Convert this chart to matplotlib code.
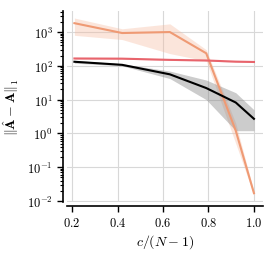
import numpy as np
import matplotlib
matplotlib.use('Agg')
import matplotlib.pyplot as plt

plt.rcParams['font.family'] = 'serif'
plt.rcParams['font.serif'] = ['cmr10', 'DejaVu Serif']
plt.rcParams['mathtext.fontset'] = 'cm'
plt.rcParams['axes.formatter.use_mathtext'] = True
plt.rcParams['axes.unicode_minus'] = False

x = [0.21, 0.42, 0.63, 0.79, 0.92, 1.0]

negro = [132, 107, 56, 22, 8.2, 2.7]
negro_lo = [120, 100, 42, 10, 1.2, 1.2]
negro_hi = [145, 115, 70, 38, 16, 5.0]

rojo = [165, 163, 150, 144, 133, 130]
rojo_lo = [159, 158, 145, 139, 128, 125]
rojo_hi = [171, 169, 155, 149, 138, 135]

naranja = [1830, 935, 1000, 235, 1.2, 0.017]
naranja_lo = [800, 600, 230, 140, 0.5, 0.015]
naranja_hi = [2600, 1250, 1750, 300, 2.0, 0.019]

fig = plt.figure(figsize=(2.74, 2.55), dpi=100)
ax = fig.add_axes([0.245, 0.205, 0.715, 0.748])

ax.fill_between(x, naranja_lo, naranja_hi, color='#f5b79a', alpha=0.35, lw=0)
ax.fill_between(x, rojo_lo, rojo_hi, color='#e8636b', alpha=0.3, lw=0)
ax.fill_between(x, negro_lo, negro_hi, color='#808080', alpha=0.4, lw=0)
ax.plot(x, naranja, color='#ef9a74', lw=1.5)
ax.plot(x, rojo, color='#e8646c', lw=1.5)
ax.plot(x, negro, color='black', lw=1.5)

ax.set_yscale('log')
ax.set_xlim(0.178, 1.04)
ax.set_ylim(0.0095, 4200)
ax.set_xticks([0.2, 0.4, 0.6, 0.8, 1.0])
ax.set_yticks([1e-2, 1e-1, 1e0, 1e1, 1e2, 1e3])
ax.grid(True, color='#d8d8d8', lw=0.8)
ax.set_axisbelow(True)

for s in ['top', 'right']:
    ax.spines[s].set_visible(False)
for s in ['left', 'bottom']:
    ax.spines[s].set_linewidth(1.2)
    ax.spines[s].set_position(('outward', 3))
ax.tick_params(labelsize=9, width=1.0, length=4)
ax.tick_params(which='minor', width=0.8, length=2.5)

ax.set_xlabel(r'$c/(N-1)$', fontsize=10, labelpad=2)
ax.set_ylabel(r'$\|\hat{\mathbf{A}}-\mathbf{A}\|_1$', fontsize=10)

fig.savefig('out.png', dpi=100)
